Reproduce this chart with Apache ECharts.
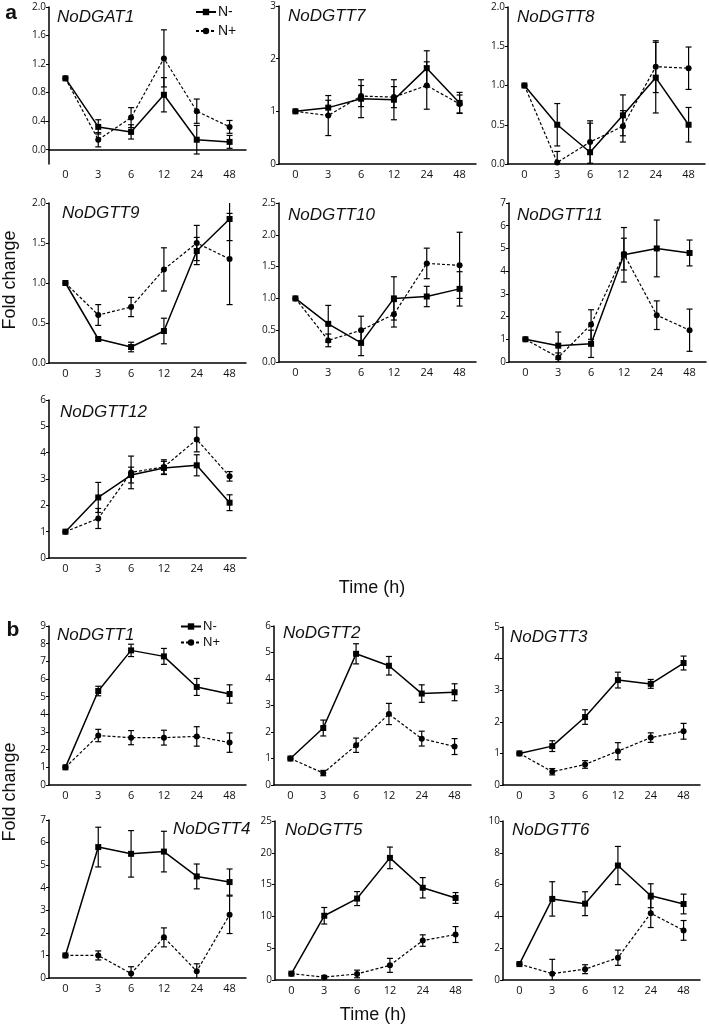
<!DOCTYPE html>
<html lang="en">
<head>
  <meta charset="UTF-8">
  <title>Fold change</title>
  <style>
    body{
      margin: 0;
    }
    .chart{
      width: 709px;
      height: 1026px;
      background: white;
    }
  </style>
</head>
<body>
<div class="chart"></div>
<script src="https://cdn.jsdelivr.net/npm/echarts@6/dist/echarts.min.js"></script>
<script>
  // time points (h)
  const categories = ['0', '3', '6', '12', '24', '48'];

  // panel a
  const dgat1Minus = [1.0, 0.32, 0.25, 0.77, 0.14, 0.11];
  const dgat1MinusErr = [0, 0.1, 0.1, 0.24, 0.2, 0.09];
  const dgat1Plus = [1.0, 0.14, 0.45, 1.28, 0.54, 0.32];
  const dgat1PlusErr = [0, 0.1, 0.14, 0.4, 0.17, 0.09];

  const dgtt7Minus = [1.0, 1.07, 1.24, 1.22, 1.82, 1.16];
  const dgtt7MinusErr = [0, 0.14, 0.36, 0.38, 0.33, 0.2];
  const dgtt7Plus = [1.0, 0.92, 1.29, 1.27, 1.49, 1.14];
  const dgtt7PlusErr = [0, 0.38, 0.2, 0.2, 0.45, 0.17];

  const dgtt8Minus = [1.0, 0.5, 0.15, 0.62, 1.1, 0.5];
  const dgtt8MinusErr = [0, 0.27, 0.37, 0.26, 0.45, 0.22];
  const dgtt8Plus = [1.0, 0.02, 0.28, 0.48, 1.24, 1.22];
  const dgtt8PlusErr = [0, 0.14, 0.27, 0.2, 0.33, 0.27];

  const dgtt9Minus = [1.0, 0.3, 0.2, 0.4, 1.4, 1.8];
  const dgtt9MinusErr = [0, 0.02, 0.06, 0.16, 0.17, 0.27];
  const dgtt9Plus = [1.0, 0.6, 0.7, 1.17, 1.5, 1.3];
  const dgtt9PlusErr = [0, 0.13, 0.12, 0.27, 0.22, 0.57];

  const dgtt10Minus = [1.0, 0.6, 0.3, 1.0, 1.03, 1.15];
  const dgtt10MinusErr = [0, 0.29, 0.2, 0.34, 0.16, 0.27];
  const dgtt10Plus = [1.0, 0.34, 0.5, 0.75, 1.55, 1.52];
  const dgtt10PlusErr = [0, 0.1, 0.22, 0.2, 0.24, 0.52];

  const dgtt11Minus = [1.0, 0.72, 0.8, 4.72, 5.0, 4.8];
  const dgtt11MinusErr = [0, 0.6, 0.6, 1.2, 1.25, 0.57];
  const dgtt11Plus = [1.0, 0.2, 1.65, 4.75, 2.06, 1.4];
  const dgtt11PlusErr = [0, 0.2, 0.65, 0.7, 0.63, 0.93];

  const dgtt12Minus = [1.0, 2.3, 3.15, 3.42, 3.52, 2.1];
  const dgtt12MinusErr = [0, 0.57, 0.3, 0.25, 0.4, 0.3];
  const dgtt12Plus = [1.0, 1.5, 3.25, 3.46, 4.5, 3.1];
  const dgtt12PlusErr = [0, 0.38, 0.62, 0.27, 0.47, 0.18];

  // panel b
  const dgtt1Minus = [1.0, 5.32, 7.62, 7.28, 5.55, 5.15];
  const dgtt1MinusErr = [0, 0.27, 0.35, 0.45, 0.48, 0.52];
  const dgtt1Plus = [1.0, 2.8, 2.68, 2.68, 2.75, 2.4];
  const dgtt1PlusErr = [0, 0.35, 0.4, 0.42, 0.55, 0.55];

  const dgtt2Minus = [1.0, 2.15, 4.95, 4.5, 3.45, 3.5];
  const dgtt2MinusErr = [0, 0.3, 0.38, 0.35, 0.33, 0.32];
  const dgtt2Plus = [1.0, 0.45, 1.5, 2.68, 1.75, 1.45];
  const dgtt2PlusErr = [0, 0.1, 0.27, 0.4, 0.28, 0.3];

  const dgtt3Minus = [1.0, 1.23, 2.15, 3.32, 3.2, 3.86];
  const dgtt3MinusErr = [0, 0.17, 0.23, 0.25, 0.14, 0.22];
  const dgtt3Plus = [1.0, 0.42, 0.65, 1.07, 1.5, 1.7];
  const dgtt3PlusErr = [0, 0.1, 0.12, 0.27, 0.15, 0.25];

  const dgtt4Minus = [1.0, 5.8, 5.5, 5.6, 4.5, 4.25];
  const dgtt4MinusErr = [0, 0.88, 1.03, 0.9, 0.55, 0.58];
  const dgtt4Plus = [1.0, 1.0, 0.2, 1.8, 0.3, 2.8];
  const dgtt4PlusErr = [0, 0.2, 0.3, 0.42, 0.33, 0.83];

  const dgtt5Minus = [1.0, 10.1, 12.8, 19.2, 14.5, 12.9];
  const dgtt5MinusErr = [0, 1.3, 1.1, 1.7, 1.6, 0.85];
  const dgtt5Plus = [1.0, 0.45, 0.95, 2.3, 6.2, 7.15];
  const dgtt5PlusErr = [0, 0.25, 0.6, 1.1, 0.9, 1.25];

  const dgtt6Minus = [1.0, 5.1, 4.8, 7.2, 5.3, 4.78];
  const dgtt6MinusErr = [0, 1.08, 0.75, 1.2, 0.75, 0.62];
  const dgtt6Plus = [1.0, 0.4, 0.68, 1.4, 4.2, 3.12];
  const dgtt6PlusErr = [0, 0.9, 0.28, 0.48, 0.9, 0.62];

  const dgat1Ticks = [0, 0.4, 0.8, 1.2, 1.6, 2.0];

  const panels = [
    {name: 'NoDGAT1', minus: dgat1Minus, minusErr: dgat1MinusErr, plus: dgat1Plus, plusErr: dgat1PlusErr,
      left: 49, top: 7, height: 157, min: -0.2, max: 2.0, ticks: dgat1Ticks, dec: 1, tx: 57, ty: 17},
    {name: 'NoDGTT7', minus: dgtt7Minus, minusErr: dgtt7MinusErr, plus: dgtt7Plus, plusErr: dgtt7PlusErr,
      left: 279, top: 6, height: 158, min: 0, max: 3, interval: 1, dec: 0, tx: 288, ty: 16},
    {name: 'NoDGTT8', minus: dgtt8Minus, minusErr: dgtt8MinusErr, plus: dgtt8Plus, plusErr: dgtt8PlusErr,
      left: 508, top: 7, height: 157, min: 0, max: 2, interval: 0.5, dec: 1, tx: 517, ty: 17},
    {name: 'NoDGTT9', minus: dgtt9Minus, minusErr: dgtt9MinusErr, plus: dgtt9Plus, plusErr: dgtt9PlusErr,
      left: 49, top: 203, height: 160, min: 0, max: 2, interval: 0.5, dec: 1, tx: 62, ty: 213},
    {name: 'NoDGTT10', minus: dgtt10Minus, minusErr: dgtt10MinusErr, plus: dgtt10Plus, plusErr: dgtt10PlusErr,
      left: 279, top: 203, height: 159, min: 0, max: 2.5, interval: 0.5, dec: 1, tx: 288, ty: 215},
    {name: 'NoDGTT11', minus: dgtt11Minus, minusErr: dgtt11MinusErr, plus: dgtt11Plus, plusErr: dgtt11PlusErr,
      left: 509, top: 203, height: 159, min: 0, max: 7, interval: 1, dec: 0, tx: 517, ty: 215},
    {name: 'NoDGTT12', minus: dgtt12Minus, minusErr: dgtt12MinusErr, plus: dgtt12Plus, plusErr: dgtt12PlusErr,
      left: 49, top: 400, height: 158, min: 0, max: 6, interval: 1, dec: 0, tx: 60, ty: 412},
    {name: 'NoDGTT1', minus: dgtt1Minus, minusErr: dgtt1MinusErr, plus: dgtt1Plus, plusErr: dgtt1PlusErr,
      left: 49, top: 626, height: 159, min: 0, max: 9, interval: 1, dec: 0, tx: 57, ty: 635},
    {name: 'NoDGTT2', minus: dgtt2Minus, minusErr: dgtt2MinusErr, plus: dgtt2Plus, plusErr: dgtt2PlusErr,
      left: 274, top: 626, height: 159, min: 0, max: 6, interval: 1, dec: 0, tx: 283, ty: 633},
    {name: 'NoDGTT3', minus: dgtt3Minus, minusErr: dgtt3MinusErr, plus: dgtt3Plus, plusErr: dgtt3PlusErr,
      left: 503, top: 627, height: 158, min: 0, max: 5, interval: 1, dec: 0, tx: 510, ty: 637},
    {name: 'NoDGTT4', minus: dgtt4Minus, minusErr: dgtt4MinusErr, plus: dgtt4Plus, plusErr: dgtt4PlusErr,
      left: 49, top: 820, height: 158, min: 0, max: 7, interval: 1, dec: 0, tx: 173, ty: 829},
    {name: 'NoDGTT5', minus: dgtt5Minus, minusErr: dgtt5MinusErr, plus: dgtt5Plus, plusErr: dgtt5PlusErr,
      left: 275, top: 821, height: 159, min: 0, max: 25, interval: 5, dec: 0, tx: 285, ty: 830},
    {name: 'NoDGTT6', minus: dgtt6Minus, minusErr: dgtt6MinusErr, plus: dgtt6Plus, plusErr: dgtt6PlusErr,
      left: 503, top: 821, height: 159, min: 0, max: 10, interval: 2, dec: 0, tx: 512, ty: 830}
  ];

  const labelFont = 'Open Sans';
  const textFont = 'Liberation Sans';

  function errorData(vals, errs){
    const out = [];
    vals.forEach((v, i) => {
      if (errs[i] > 0) out.push([i, v - errs[i], v + errs[i]]);
    });
    return out;
  }

  function renderError(params, api){
    const x = api.value(0);
    const lo = api.coord([x, api.value(1)]);
    const hi = api.coord([x, api.value(2)]);
    const w = 3;
    const style = {stroke: '#000', lineWidth: 1.2};
    return {
      type: 'group',
      children: [
        {type: 'line', shape: {x1: hi[0], y1: hi[1], x2: lo[0], y2: lo[1]}, style: style},
        {type: 'line', shape: {x1: hi[0] - w, y1: hi[1], x2: hi[0] + w, y2: hi[1]}, style: style},
        {type: 'line', shape: {x1: lo[0] - w, y1: lo[1], x2: lo[0] + w, y2: lo[1]}, style: style}
      ]
    };
  }

  const grid = [], xAxis = [], yAxis = [], series = [], graphic = [];

  panels.forEach((p, i) => {
    grid.push({left: p.left, top: p.top, width: 197, height: p.height, outerBoundsMode: 'none'});
    xAxis.push({
      type: 'category',
      gridIndex: i,
      data: categories,
      axisLine: {lineStyle: {color: '#000', width: 1.5}},
      axisTick: {show: false},
      axisLabel: {color: '#111', fontSize: 11, fontFamily: labelFont, margin: 5}
    });
    const y = {
      type: 'value',
      gridIndex: i,
      min: p.min,
      max: p.max,
      axisLine: {show: true, lineStyle: {color: '#000', width: 1.5}},
      axisTick: {show: true, length: 3, lineStyle: {color: '#000'}},
      splitLine: {show: false},
      axisLabel: {
        color: '#111', fontSize: 10, fontFamily: labelFont, margin: 3,
        formatter: (v) => v.toFixed(p.dec)
      }
    };
    if (p.ticks) {
      y.axisLabel.customValues = p.ticks;
      y.axisTick.customValues = p.ticks;
    } else {
      y.interval = p.interval;
    }
    yAxis.push(y);

    series.push({
      type: 'custom', name: 'errMinus', xAxisIndex: i, yAxisIndex: i,
      renderItem: renderError, clip: true, silent: true,
      encode: {x: 0, y: [1, 2]},
      data: errorData(p.minus, p.minusErr), z: 1
    });
    series.push({
      type: 'custom', name: 'errPlus', xAxisIndex: i, yAxisIndex: i,
      renderItem: renderError, clip: true, silent: true,
      encode: {x: 0, y: [1, 2]},
      data: errorData(p.plus, p.plusErr), z: 1
    });
    series.push({
      type: 'line', name: 'N-', xAxisIndex: i, yAxisIndex: i,
      data: p.minus, symbol: 'rect', symbolSize: 6, showAllSymbol: true,
      itemStyle: {color: '#000'},
      lineStyle: {color: '#000', width: 1.5, type: 'solid'},
      z: 3
    });
    series.push({
      type: 'line', name: 'N+', xAxisIndex: i, yAxisIndex: i,
      data: p.plus, symbol: 'circle', symbolSize: 6, showAllSymbol: true,
      itemStyle: {color: '#000'},
      lineStyle: {color: '#000', width: 1.2, type: [3, 2]},
      z: 2
    });

    graphic.push({
      type: 'text', x: p.tx, y: p.ty,
      style: {text: p.name, font: 'italic 17px "' + textFont + '"', fill: '#111',
        textAlign: 'left', textVerticalAlign: 'middle', align: 'left', verticalAlign: 'middle'}
    });
  });

  const other = [
    {text: 'a', x: 11, y: 13, font: 'bold 21px "' + textFont + '"'},
    {text: 'b', x: 13, y: 630, font: 'bold 21px "' + textFont + '"'},
    {text: 'Time (h)', x: 372, y: 588, font: '18px "' + textFont + '"'},
    {text: 'Time (h)', x: 373, y: 1015, font: '18px "' + textFont + '"'}
  ];
  other.forEach((t) => {
    graphic.push({
      type: 'text', x: t.x, y: t.y,
      style: {text: t.text, font: t.font, fill: '#111',
        textAlign: 'center', textVerticalAlign: 'middle', align: 'center', verticalAlign: 'middle'}
    });
  });
  [280, 792].forEach((cy) => {
    graphic.push({
      type: 'text', x: 10, y: cy, rotation: Math.PI / 2,
      style: {text: 'Fold change', font: '18px "' + textFont + '"', fill: '#111',
        textAlign: 'center', textVerticalAlign: 'middle', align: 'center', verticalAlign: 'middle'}
    });
  });

  const container = document.querySelector('.chart');
  const instance = echarts.init(container);
  const option = {
    animation: false,
    backgroundColor: '#fff',
    legend: [
      {
        data: ['N-', 'N+'], orient: 'vertical', left: 195, top: 5, padding: 0,
        itemWidth: 20, itemHeight: 8, itemGap: 5, selectedMode: false,
        textStyle: {fontSize: 14, fontFamily: textFont, color: '#111', padding: [0, 0, 0, -3]}
      },
      {
        data: ['N-', 'N+'], orient: 'vertical', left: 180, top: 620, padding: 0,
        itemWidth: 20, itemHeight: 8, itemGap: 3, selectedMode: false,
        textStyle: {fontSize: 13, fontFamily: textFont, color: '#111', padding: [0, 0, 0, -3]}
      }
    ],
    grid: grid,
    xAxis: xAxis,
    yAxis: yAxis,
    series: series,
    graphic: graphic
  };
  instance.setOption(option);
</script>
</body>
</html>
